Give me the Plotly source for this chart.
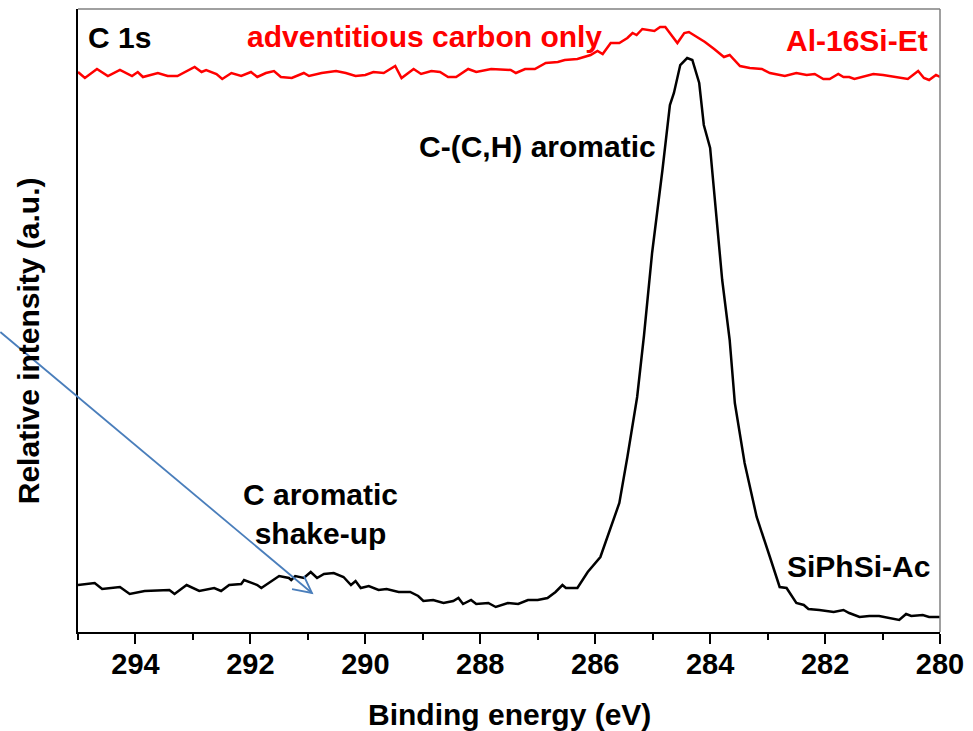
import plotly.graph_objects as go

# SiPhSi-Ac (black) : binding energy (eV) and relative intensity (a.u.)
be_siphsi = [295.00, 294.71, 294.58, 294.27, 294.10, 293.84, 293.41, 293.32, 293.11, 292.89,
             292.63, 292.51, 292.37, 292.16, 292.11, 291.88, 291.81, 291.64, 291.50, 291.33,
             291.29, 291.22, 291.07, 290.95, 290.84, 290.72, 290.55, 290.38, 290.25, 290.17,
             290.08, 289.94, 289.77, 289.63, 289.42, 289.22, 289.08, 288.99, 288.82, 288.64,
             288.47, 288.38, 288.30, 288.16, 288.07, 287.86, 287.73, 287.52, 287.34, 287.17,
             287.00, 286.83, 286.69, 286.57, 286.51, 286.31, 286.13, 285.91, 285.73, 285.58,
             285.44, 285.27, 285.15, 285.01, 284.83, 284.70, 284.63, 284.52, 284.40, 284.31,
             284.19, 284.11, 284.00, 283.85, 283.79, 283.66, 283.57, 283.40, 283.19, 282.96,
             282.79, 282.67, 282.50, 282.37, 282.29, 282.10, 281.85, 281.68, 281.58, 281.40,
             281.23, 281.06, 280.89, 280.71, 280.59, 280.50, 280.30, 280.19, 280.00]
int_siphsi = [47, 49, 43, 45, 38, 41, 42, 38, 47, 41,
              44, 41, 47, 48, 52, 47, 44, 51, 56, 54,
              52, 56, 54, 60, 54, 58, 59, 55, 47, 51,
              44, 46, 42, 43, 40, 40, 36, 31, 32, 29,
              31, 34, 28, 32, 28, 29, 25, 29, 28, 32,
              32, 34, 40, 47, 44, 44, 60, 75, 105, 129,
              175, 235, 297, 379, 462, 527, 539, 567, 574, 572,
              549, 507, 484, 395, 352, 292, 229, 169, 115, 75,
              45, 44, 29, 27, 23, 22, 20, 22, 19, 15,
              16, 16, 14, 12, 18, 16, 17, 15, 15]

# Al-16Si-Et (red)
be_al = [295.00, 294.88, 294.67, 294.48, 294.27, 294.06, 293.96, 293.87, 293.61, 293.44,
         293.27, 292.97, 292.85, 292.77, 292.59, 292.49, 292.33, 292.16, 291.99, 291.88,
         291.73, 291.59, 291.47, 291.28, 291.07, 290.98, 290.76, 290.51, 290.34, 290.17,
         290.00, 289.86, 289.68, 289.48, 289.37, 289.16, 289.03, 288.85, 288.70, 288.56,
         288.42, 288.21, 288.07, 287.81, 287.47, 287.38, 287.22, 287.05, 286.86, 286.65,
         286.53, 286.31, 286.08, 285.96, 285.87, 285.73, 285.58, 285.44, 285.35, 285.28,
         285.18, 284.97, 284.87, 284.78, 284.57, 284.45, 284.37, 284.26, 284.14, 284.09,
         283.93, 283.76, 283.66, 283.48, 283.31, 283.10, 282.96, 282.70, 282.50, 282.32,
         282.18, 282.03, 281.92, 281.77, 281.68, 281.58, 281.49, 281.34, 281.16, 280.99,
         280.56, 280.38, 280.28, 280.19, 280.07, 280.00]
int_al = [560, 554, 563, 556, 562, 556, 560, 555, 559, 556,
          556, 565, 560, 562, 558, 553, 559, 556, 560, 555,
          559, 561, 555, 554, 559, 556, 559, 561, 559, 556,
          557, 560, 559, 566, 554, 563, 558, 561, 560, 555,
          555, 563, 560, 563, 562, 559, 563, 563, 569, 570,
          572, 573, 577, 581, 578, 589, 589, 594, 599, 597,
          603, 601, 605, 605, 589, 599, 600, 596, 591, 590,
          583, 575, 577, 566, 564, 563, 559, 556, 559, 557,
          558, 553, 553, 558, 555, 555, 553, 555, 558, 557,
          553, 561, 554, 552, 557, 555]

x_ticks = [294, 292, 290, 288, 286, 284, 282, 280]
x_range = [295, 280]
y_range = [0, 623]

FONT = "Arial, Liberation Sans, sans-serif"

fig = go.Figure()
fig.add_trace(go.Scatter(x=be_siphsi, y=int_siphsi, mode="lines",
                         line=dict(color="black", width=2.5), name="SiPhSi-Ac"))
fig.add_trace(go.Scatter(x=be_al, y=int_al, mode="lines",
                         line=dict(color="#FF0000", width=2.5), name="Al-16Si-Et"))

fig.update_layout(
    width=973, height=731,
    margin=dict(l=78, r=29, t=9, b=99),
    paper_bgcolor="white", plot_bgcolor="white",
    showlegend=False,
    font=dict(family=FONT, size=29, color="black"),
)
fig.update_xaxes(
    range=x_range, tickvals=x_ticks, ticktext=[str(v) for v in x_ticks],
    showgrid=False, zeroline=False,
    showline=True, linecolor="black", linewidth=2,
    ticks="outside", ticklen=10, tickwidth=2, tickcolor="black",
    ticklabelstandoff=-5,
    minor=dict(dtick=1, ticks="outside", ticklen=6, tickwidth=2, tickcolor="black"),
    tickfont=dict(family=FONT, size=29, color="black", weight="bold"),
)
fig.update_yaxes(
    range=y_range, showgrid=False, zeroline=False, showticklabels=False,
    showline=True, linecolor="black", linewidth=2, ticks="",
)

# gray top and right frame
fig.add_shape(type="line", xref="paper", yref="paper", x0=0, x1=1, y0=1, y1=1,
              line=dict(color="#808080", width=1.5))
fig.add_shape(type="line", xref="paper", yref="paper", x0=1, x1=1, y0=0, y1=1,
              line=dict(color="#808080", width=1.5))

# blue arrow (open V head)
fig.add_shape(type="line", xref="paper", yref="paper", x0=-0.0901, y0=0.4815, x1=0.2714, y1=0.0626,
              line=dict(color="#4A7EBB", width=1.8), layer="above")
fig.add_shape(type="path", xref="paper", yref="paper",
              path="M 0.2483,0.0690 L 0.2714,0.0626 L 0.2621,0.0899",
              line=dict(color="#4A7EBB", width=1.8), layer="above")

def label(text, x, y, color="black", size=30):
    fig.add_annotation(text=text, xref="paper", yref="paper",
                       x=(x - 78) / 866, y=(632 - y) / 623,
                       xanchor="center", yanchor="middle", showarrow=False,
                       font=dict(family=FONT, size=size, color=color, weight="bold"))

label("C 1s", 120, 37)
label("adventitious carbon only", 426, 36, color="#FF0000")
label("Al-16Si-Et", 861, 41, color="#FF0000")
label("C-(C,H) aromatic", 540, 146)
label("C aromatic<br>shake-up", 322, 514)
label("SiPhSi-Ac", 862, 566)
label("Binding energy (eV)", 511, 714)

fig.add_annotation(text="Relative intensity (a.u.)", xref="paper", yref="paper",
                   x=(28 - 78) / 866, y=(632 - 341) / 623, textangle=-90,
                   xanchor="center", yanchor="middle", showarrow=False,
                   font=dict(family=FONT, size=30, color="black", weight="bold"))

fig.write_html("out.html", config={"displayModeBar": False},
               post_script="document.body.style.margin='0';document.body.style.overflow='hidden';")
